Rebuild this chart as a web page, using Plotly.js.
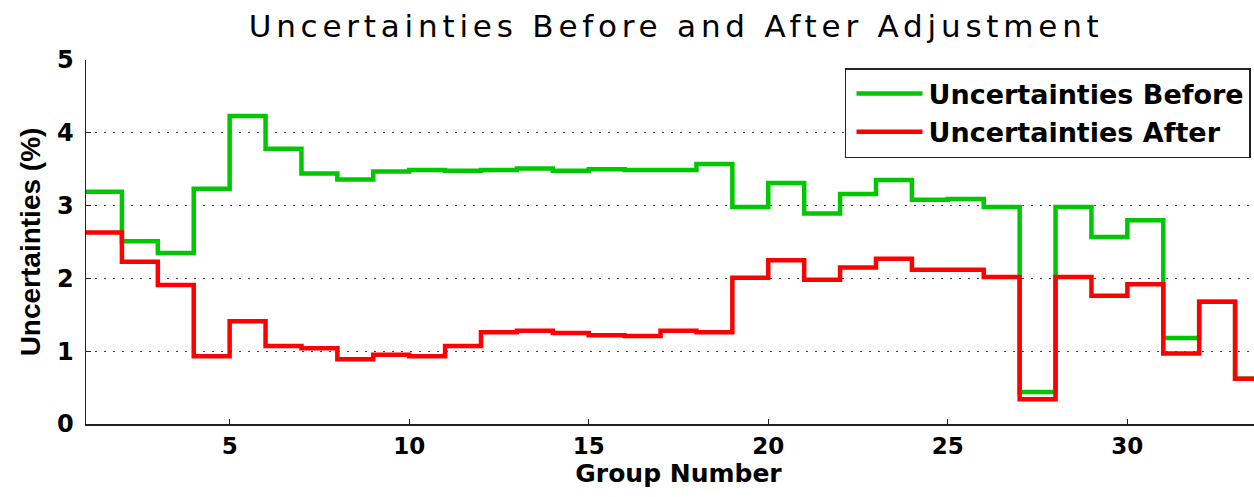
<!DOCTYPE html>
<html>
<head>
<meta charset="utf-8">
<script src="https://cdn.plot.ly/plotly-3.0.1.min.js"></script>
<style>
  html, body { margin: 0; padding: 0; background: #fff; overflow: hidden; width: 1254px; height: 497px; }
  #chart { width: 1290px; height: 497px; }
  .gtitle { letter-spacing: 4.8px; }
</style>
</head>
<body>
<div id="chart"></div>
<script>
// Group numbers (stairs: each value holds from its group to the next)
const groups = [1,2,3,4,5,6,7,8,9,10,11,12,13,14,15,16,17,18,19,20,21,22,23,24,25,26,27,28,29,30,31,32,33,34];
const uncertaintiesBefore = [3.19,2.51,2.35,3.23,4.23,3.78,3.44,3.36,3.47,3.49,3.48,3.49,3.51,3.48,3.50,3.49,3.49,3.57,2.98,3.31,2.89,3.16,3.35,3.08,3.09,2.98,0.44,2.98,2.57,2.80,1.18,1.68,0.62,0.62];
const uncertaintiesAfter  = [2.63,2.23,1.91,0.93,1.41,1.07,1.04,0.89,0.95,0.93,1.07,1.26,1.28,1.25,1.22,1.21,1.28,1.26,2.01,2.25,1.98,2.15,2.27,2.12,2.12,2.02,0.34,2.02,1.76,1.92,0.97,1.68,0.62,0.62];
const xTicks = [5,10,15,20,25,30];
const yTicks = [0,1,2,3,4,5];

const traces = [
  {x: groups, y: uncertaintiesBefore, type: 'scatter', mode: 'lines', name: 'Uncertainties Before',
   line: {shape: 'hv', color: '#00c800', width: 4.5}},
  {x: groups, y: uncertaintiesAfter, type: 'scatter', mode: 'lines', name: 'Uncertainties After',
   line: {shape: 'hv', color: '#ff0000', width: 4.5}}
];

const layout = {
  width: 1290, height: 497,
  margin: {l: 86, r: 19, t: 60, b: 73},
  paper_bgcolor: '#fff', plot_bgcolor: '#fff',
  title: {text: 'Uncertainties Before and After Adjustment',
          font: {family: '"DejaVu Sans", sans-serif', size: 31, color: '#000'},
          x: 0.498, xref: 'paper', xanchor: 'center', y: 0.948, yref: 'container', yanchor: 'middle'},
  xaxis: {range: [1, 34], tickvals: xTicks, ticks: 'inside', ticklen: 5, tickwidth: 1.2, tickcolor: '#222',
          showline: true, linecolor: '#222', linewidth: 1.5, mirror: false, showgrid: false, zeroline: false,
          tickfont: {family: '"DejaVu Sans", sans-serif', size: 23, color: '#000', weight: 'bold'}, ticklabelstandoff: 1,
          title: {text: 'Group Number', font: {family: '"DejaVu Sans", sans-serif', size: 25, color: '#000', weight: 'bold'}, standoff: 0}},
  yaxis: {range: [0, 5], tickvals: yTicks, ticks: 'inside', ticklen: 5, tickwidth: 1.2, tickcolor: '#222',
          showline: true, linecolor: '#222', linewidth: 1.5, mirror: false, zeroline: false,
          showgrid: true, gridcolor: '#444', gridwidth: 1.2, griddash: '1.5px,7.5px',
          tickfont: {family: '"DejaVu Sans", sans-serif', size: 24, color: '#000', weight: 'bold'}, ticklabelstandoff: 6,
          title: {text: 'Uncertainties (%)', font: {family: '"Liberation Sans", Arial, sans-serif', size: 28, color: '#000', weight: 'bold'}, standoff: 8}},
  legend: {x: 0.6405, y: 0.978, xanchor: 'left', yanchor: 'top', bgcolor: '#fff', bordercolor: '#222', borderwidth: 1.5,
           itemwidth: 72,
           font: {family: '"DejaVu Sans", sans-serif', size: 27, color: '#000', weight: 'bold'}, tracegroupgap: 0},
  showlegend: true
};

Plotly.newPlot('chart', traces, layout, {displayModeBar: false, staticPlot: true}).then(function (gd) {
  // lengthen the legend line samples to match the reference's long keys
  gd.querySelectorAll('.legendlines path').forEach(function (p) { p.setAttribute('d', 'M10,0h66'); });
});
</script>
</body>
</html>
